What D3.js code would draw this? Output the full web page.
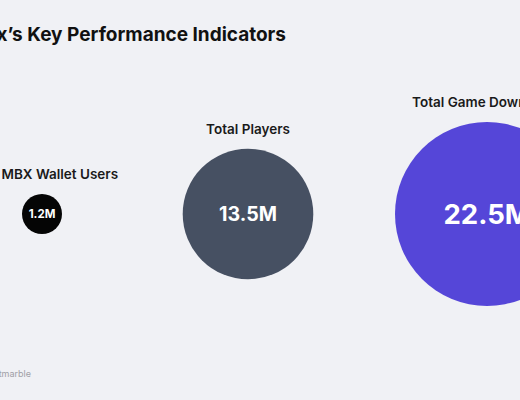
<!DOCTYPE html>
<html>
<head>
<meta charset="utf-8">
<script src="https://cdn.jsdelivr.net/npm/d3@7"></script>
<style>
  html, body { margin: 0; padding: 0; background: #f0f1f5; }
  svg { display: block; }
  text { font-family: Inter, "Noto Sans", sans-serif; }
</style>
</head>
<body>
<script>
const categories = ["Total MBX Wallet Users", "Total Players", "Total Game Downloads"];
const values = [1.2, 13.5, 22.5];
const valueLabels = ["1.2M", "13.5M", "22.5M"];
const colors = ["#050505", "#465062", "#5546d8"];
const titleText = "Marblex\u2019s Key Performance Indicators";
const sourceText = "Source: Netmarble";

const W = 520, H = 400;
const svg = d3.select("body").append("svg").attr("width", W).attr("height", H);
svg.append("rect").attr("width", W).attr("height", H).attr("fill", "#f0f1f5");

const rScale = d3.scalePow().exponent(0.8).domain(d3.extent(values)).range([20, 92]);
const xScale = d3.scaleLinear().domain([0, 1, 2]).range([42, 248, 487]);
const cy = 214;

svg.append("text")
  .attr("x", 286).attr("y", 41)
  .attr("text-anchor", "end")
  .attr("font-size", 19).attr("font-weight", 700)
  .attr("fill", "#111")
  .text(titleText);

const g = svg.selectAll("g.kpi").data(values).join("g").attr("class", "kpi")
  .attr("transform", (d, i) => `translate(${xScale(i)},${cy})`);

g.append("circle")
  .attr("r", d => rScale(d))
  .attr("fill", (d, i) => colors[i]);

g.append("text")
  .attr("y", d => -rScale(d) - 15)
  .attr("text-anchor", "middle")
  .attr("font-size", 13.5).attr("font-weight", 600)
  .attr("fill", "#1a1a1a")
  .text((d, i) => categories[i]);

g.append("text")
  .attr("text-anchor", "middle")
  .attr("font-size", d => Math.max(11.5, rScale(d) * 0.3))
  .attr("dy", "0.36em")
  .attr("font-weight", 700)
  .attr("fill", "#ffffff")
  .text((d, i) => valueLabels[i]);

svg.append("text")
  .attr("x", 31).attr("y", 377)
  .attr("text-anchor", "end")
  .attr("font-size", 9)
  .attr("fill", "#a0a0a6")
  .text(sourceText);
</script>
</body>
</html>
